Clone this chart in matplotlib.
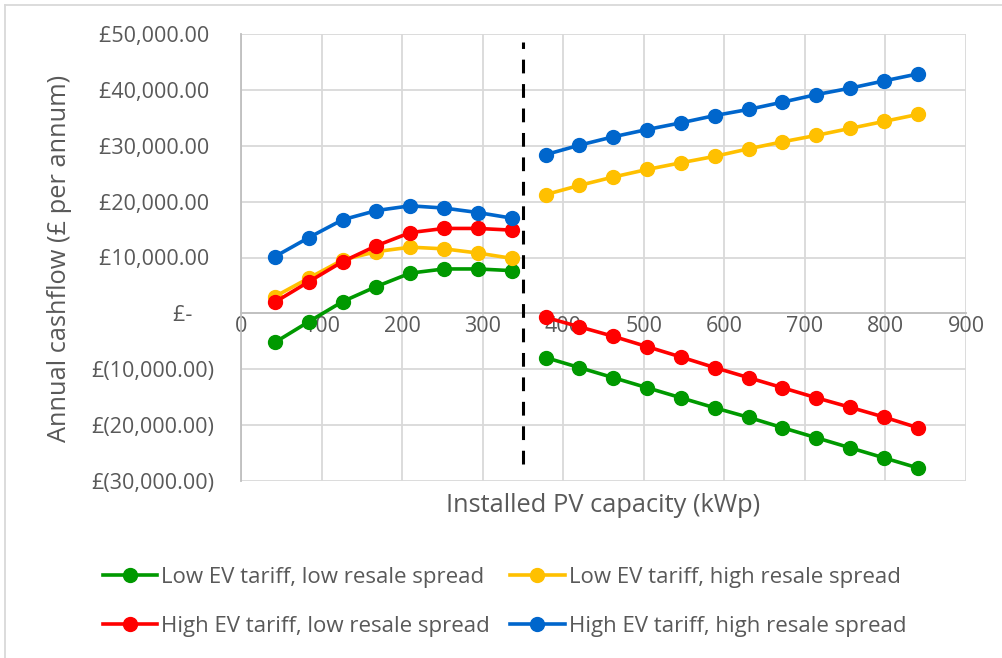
import matplotlib
matplotlib.use('Agg')
import matplotlib.pyplot as plt
from matplotlib.lines import Line2D
from matplotlib.ticker import FuncFormatter

plt.rcParams['font.family'] = ['Open Sans', 'DejaVu Sans']

# installed PV capacity (kWp); the first 8 sizes sit left of the break
capacity = [42, 84, 126, 168, 210, 252, 294, 336,
            378, 420, 462, 504, 546, 588, 630, 672, 714, 756, 798, 840]
n_left = 8

# annual cashflow (GBP per annum) for each tariff / resale spread scenario
low_ev_low_spread = [-5200, -1500, 2100, 4800, 7200, 7950, 7950, 7650,
                     -7900, -9700, -11500, -13300, -15100, -16900, -18600,
                     -20450, -22250, -24050, -25850, -27650]
low_ev_high_spread = [3000, 6300, 9550, 11050, 11850, 11550, 10800, 9850,
                      21250, 22900, 24400, 25750, 26950, 28100, 29450,
                      30700, 31850, 33100, 34350, 35600]
high_ev_low_spread = [2000, 5650, 9250, 12100, 14450, 15200, 15200, 14900,
                      -700, -2400, -4100, -5950, -7800, -9700, -11500,
                      -13300, -15100, -16800, -18550, -20450]
high_ev_high_spread = [10150, 13550, 16750, 18400, 19250, 18850, 18050, 17050,
                       28400, 30100, 31600, 32900, 34100, 35400, 36500,
                       37800, 39150, 40300, 41600, 42850]

labels = ['Low EV tariff, low resale spread', 'Low EV tariff, high resale spread',
          'High EV tariff, low resale spread', 'High EV tariff, high resale spread']
colors = ['#009900', '#FFC000', '#FF0000', '#0066CC']
series = [low_ev_low_spread, low_ev_high_spread, high_ev_low_spread, high_ev_high_spread]

break_kwp = 350

TXT = '#595959'
GRID = '#D9D9D9'


def gbp(v, pos):
    if abs(v) < 1e-9:
        return '£-    '
    if v < 0:
        return '£({:,.2f})'.format(-v)
    return '£{:,.2f} '.format(v)


fig = plt.figure(figsize=(10.02, 6.58), dpi=100, facecolor='white')
ax = fig.add_axes([241 / 1002, 1 - 481 / 658, (966 - 241) / 1002, (481 - 34) / 658])

handles = {}
for vals, col, lab in zip(series, colors, labels):
    for sl in (slice(0, n_left), slice(n_left, None)):
        ln, = ax.plot(capacity[sl], vals[sl], '-o', color=col, lw=2.6,
                      ms=10, mec=col, mfc=col, label=lab, zorder=3)
    handles[lab] = ln

ax.axvline(break_kwp, ymin=0.038, ymax=0.982, color='black', lw=2.2,
           dashes=(4.5, 3.5), zorder=4)

ax.set_xlim(0, 900)
ax.set_ylim(-30000, 50000)
ax.set_xticks(range(0, 901, 100))
ax.set_yticks(range(-30000, 50001, 10000))
ax.yaxis.set_major_formatter(FuncFormatter(gbp))

ax.grid(True, color=GRID, lw=1.3, zorder=0)
ax.set_axisbelow(True)
for s in ('top', 'right'):
    ax.spines[s].set_visible(False)
ax.spines['bottom'].set_position(('data', 0))
ax.spines['bottom'].set_color('#BFBFBF')
ax.spines['bottom'].set_linewidth(1.3)
ax.spines['left'].set_color('#BFBFBF')
ax.spines['left'].set_linewidth(1.3)
ax.tick_params(axis='both', length=0, colors=TXT, labelsize=15.5)
ax.tick_params(axis='y', pad=19)
ax.tick_params(axis='x', pad=2)

fig.text(60 / 1002, 1 - 258 / 658, 'Annual cashflow (£ per annum)', rotation=90,
         ha='center', va='center', color=TXT, fontsize=18.3)
fig.text(603 / 1002, 1 - 506 / 658, 'Installed PV capacity (kWp)',
         ha='center', va='center', color=TXT, fontsize=18.3)

order = [labels[0], labels[2], labels[1], labels[3]]
leg = fig.legend([handles[l] for l in order], order, ncol=2, frameon=False,
                 loc='center left', bbox_to_anchor=(94 / 1002, 1 - 602 / 658),
                 fontsize=16, handlelength=2.45, handletextpad=0.18,
                 columnspacing=0.9, labelspacing=1.25, borderaxespad=0)
for t in leg.get_texts():
    t.set_color(TXT)

# chart area border
fig.add_artist(Line2D([5 / 1002, 5 / 1002], [0, 1 - 5 / 658], transform=fig.transFigure,
                      color=GRID, lw=1.3))
fig.add_artist(Line2D([5 / 1002, 1], [1 - 5 / 658, 1 - 5 / 658], transform=fig.transFigure,
                      color=GRID, lw=1.3))

fig.savefig('out.png', dpi=100, facecolor='white')
